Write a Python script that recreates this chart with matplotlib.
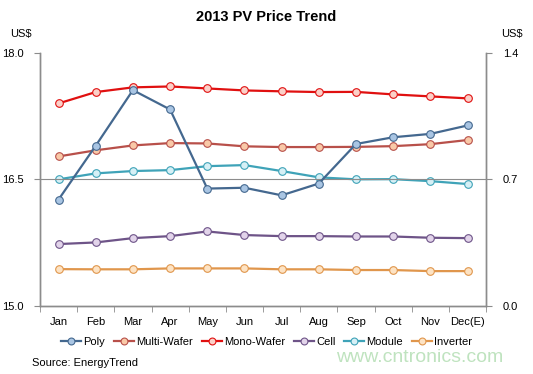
import matplotlib.pyplot as plt
import matplotlib as mpl
import numpy as np

mpl.rcParams.update({"font.family": ["Liberation Sans", "DejaVu Sans"], "font.size": 8})

months = ["Jan", "Feb", "Mar", "Apr", "May", "Jun", "Jul", "Aug", "Sep", "Oct", "Nov", "Dec(E)"]
# left axis (US$/kg)
poly = [16.26, 16.90, 17.56, 17.33, 16.39, 16.40, 16.31, 16.45, 16.92, 17.00, 17.04, 17.14]
# right axis (US$)
multi_wafer = [0.827, 0.861, 0.888, 0.901, 0.899, 0.883, 0.879, 0.879, 0.880, 0.884, 0.895, 0.918]
mono_wafer = [1.121, 1.184, 1.210, 1.215, 1.204, 1.193, 1.188, 1.184, 1.185, 1.171, 1.160, 1.149]
cell = [0.341, 0.350, 0.374, 0.385, 0.411, 0.391, 0.385, 0.385, 0.383, 0.383, 0.376, 0.374]
module = [0.700, 0.733, 0.746, 0.751, 0.773, 0.779, 0.746, 0.711, 0.700, 0.701, 0.690, 0.674]
inverter = [0.202, 0.201, 0.201, 0.206, 0.206, 0.206, 0.201, 0.201, 0.197, 0.197, 0.191, 0.191]

# (name, values, line colour, marker face)
right_series = [
    ("Multi-Wafer", multi_wafer, "#b8504a", "#f9c9a8"),
    ("Mono-Wafer", mono_wafer, "#e01010", "#fbd0c8"),
    ("Cell", cell, "#6e5488", "#e2d4ea"),
    ("Module", module, "#3fa3b8", "#d6f0f6"),
    ("Inverter", inverter, "#e0964c", "#fde3c4"),
]
POLY_C, POLY_F = "#44688f", "#a9c5e3"
AX_C = "#8c8c8c"

fig = plt.figure(figsize=(5.33, 3.74), dpi=100)
ax = fig.add_axes([0.075, 0.183, 0.837, 0.675])
ax2 = ax.twinx()

x = np.arange(len(months))
handles = {}
mk = dict(marker="o", ms=5.5, mew=0.8, lw=1.6)
for name, vals, lc, fc in right_series:
    h, = ax2.plot(x, vals, color=lc, mfc=fc, mec=lc, label=name, **mk)
    handles[name] = h
ax.set_zorder(ax2.get_zorder() + 1); ax.patch.set_visible(False)
hp, = ax.plot(x, poly, color=POLY_C, mfc=POLY_F, mec=POLY_C, label="Poly", **mk)
handles["Poly"] = hp

ax.set_xlim(-0.5, 11.5)
ax.set_ylim(15.0, 18.0)
ax2.set_ylim(0.0, 1.4)
ax.set_yticks([15.0, 16.5, 18.0])
ax.set_yticklabels(["15.0", "16.5", "18.0"])
ax2.set_yticks([0.0, 0.7, 1.4])
ax2.set_yticklabels(["0.0", "0.7", "1.4"])
ax.axhline(16.5, color=AX_C, lw=0.8, zorder=0)

ax.set_xticks(x)
ax.set_xticklabels(months)
ax.set_xticks(np.arange(-0.5, 12, 1), minor=True)
ax.tick_params(axis="x", which="major", length=0, pad=8)
ax.tick_params(axis="x", which="minor", length=4, color=AX_C, direction="out")
ax.tick_params(axis="y", length=4, color=AX_C, pad=8)
ax2.tick_params(axis="y", length=4, color=AX_C, pad=8)

for a in (ax, ax2):
    a.spines["top"].set_visible(False)
    for s in ("left", "right", "bottom"):
        a.spines[s].set_color(AX_C)
        a.spines[s].set_linewidth(1.0)

fig.text(0.5, 0.955, "2013 PV Price Trend", ha="center", va="center", fontsize=10.5, fontweight="bold")
fig.text(0.04, 0.91, "US$", ha="center", va="center", fontsize=8)
fig.text(0.96, 0.91, "US$", ha="center", va="center", fontsize=8)

order = ["Poly", "Multi-Wafer", "Mono-Wafer", "Cell", "Module", "Inverter"]
fig.legend([handles[n] for n in order], order, loc="center", bbox_to_anchor=(0.5, 0.085),
           ncol=6, frameon=False, fontsize=8, handlelength=1.8, handletextpad=0.2,
           columnspacing=0.8, markerscale=0.9)

fig.text(0.06, 0.03, "Source: EnergyTrend", ha="left", va="center", fontsize=8)
fig.text(0.945, 0.045, "www.cntronics.com", ha="right", va="center", fontsize=14, color="#bfe3bf")

fig.savefig("out.png", dpi=100)
